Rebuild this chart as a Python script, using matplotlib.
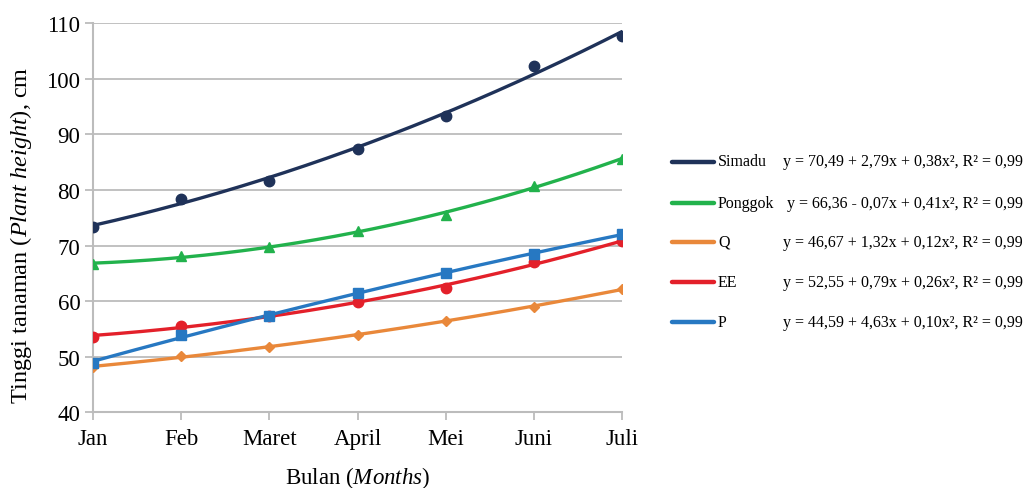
import numpy as np
import matplotlib
matplotlib.use("Agg")
import matplotlib.pyplot as plt
from matplotlib.lines import Line2D

plt.rcParams['font.family'] = ['Liberation Serif', 'DejaVu Serif']
plt.rcParams['mathtext.fontset'] = 'custom'
plt.rcParams['mathtext.rm'] = 'Liberation Serif'
plt.rcParams['mathtext.it'] = 'Liberation Serif:italic'

months = ["Jan", "Feb", "Maret", "April", "Mei", "Juni", "Juli"]
simadu = [73.4, 78.4, 81.7, 87.4, 93.3, 102.4, 107.8]
ponggok = [66.7, 68.1, 69.7, 72.6, 75.5, 80.8, 85.6]
q_vals = [48.1, 50.2, 51.7, 54.0, 56.4, 59.0, 62.2]
ee_vals = [53.6, 55.6, 57.3, 59.9, 62.3, 67.0, 70.8]
p_vals = [48.9, 54.0, 57.3, 61.4, 65.1, 68.5, 72.1]

names = ["Simadu", "Ponggok", "Q", "EE", "P"]
equations = [
    "y = 70,49 + 2,79x + 0,38x², R² = 0,99",
    "y = 66,36 - 0,07x + 0,41x², R² = 0,99",
    "y = 46,67 + 1,32x + 0,12x², R² = 0,99",
    "y = 52,55 + 0,79x + 0,26x², R² = 0,99",
    "y = 44,59 + 4,63x + 0,10x², R² = 0,99",
]
series = [simadu, ponggok, q_vals, ee_vals, p_vals]
colors = ["#1f3259", "#22b24c", "#e9883a", "#e3202a", "#2778c2"]
markers = ["o", "^", "D", "o", "s"]
msizes = [7.5, 6.5, 5.5, 7.5, 7.5]

W, H = 1025, 489
fig = plt.figure(figsize=(W / 100, H / 100), dpi=100)
ax = fig.add_axes([93 / W, 1 - 413.3 / H, (622 - 93) / W, (413.3 - 24.3) / H])

x = np.arange(len(months))
xf = np.linspace(0, len(months) - 1, 200)
for vals, c, m, ms in zip(series, colors, markers, msizes):
    coef = np.polyfit(x, vals, 2)
    ax.plot(xf, np.polyval(coef, xf), color=c, lw=2.4, zorder=3, solid_capstyle='round')
    ax.plot(x, vals, linestyle='none', marker=m, markersize=ms, color=c, zorder=4)

ax.set_xlim(0, len(months) - 1)
ax.set_ylim(40, 110)
ax.set_yticks(np.arange(40, 111, 10))
ax.set_xticks(x)
ax.set_xticklabels(months)
ax.grid(axis='y', color='#bcbcbc', lw=1.3)
ax.set_axisbelow(True)
for s in ['top', 'right']:
    ax.spines[s].set_visible(False)
for s in ['left', 'bottom']:
    ax.spines[s].set_color('#bcbcbc')
    ax.spines[s].set_linewidth(1.5)
ax.tick_params(axis='both', colors='#bcbcbc', labelcolor='black', labelsize=16.5)
ax.tick_params(axis='x', length=6, width=1.3, pad=5)
ax.tick_params(axis='y', length=6, width=1.3, pad=3)
ax.set_xlabel(r'Bulan ($\mathit{Months}$)', fontsize=16.5, labelpad=11)
ax.set_ylabel(r'Tinggi tanaman ($\mathit{Plant\ height}$), cm', fontsize=17.5)
ax.yaxis.set_label_coords(-0.112, 0.458)

rows = [162.5, 204, 243, 283, 323]
for name, eq, c, yr in zip(names, equations, colors, rows):
    yf = 1 - yr / H
    fig.add_artist(Line2D([672 / W, 714 / W], [yf, yf], color=c, lw=3.2,
                          solid_capstyle='round', transform=fig.transFigure))
    fig.text(718 / W, yf, name, fontsize=11.5, va='center', ha='left')
    fig.text(1023 / W, yf, eq, fontsize=11.5, va='center', ha='right')

fig.savefig("out.png", dpi=100)
